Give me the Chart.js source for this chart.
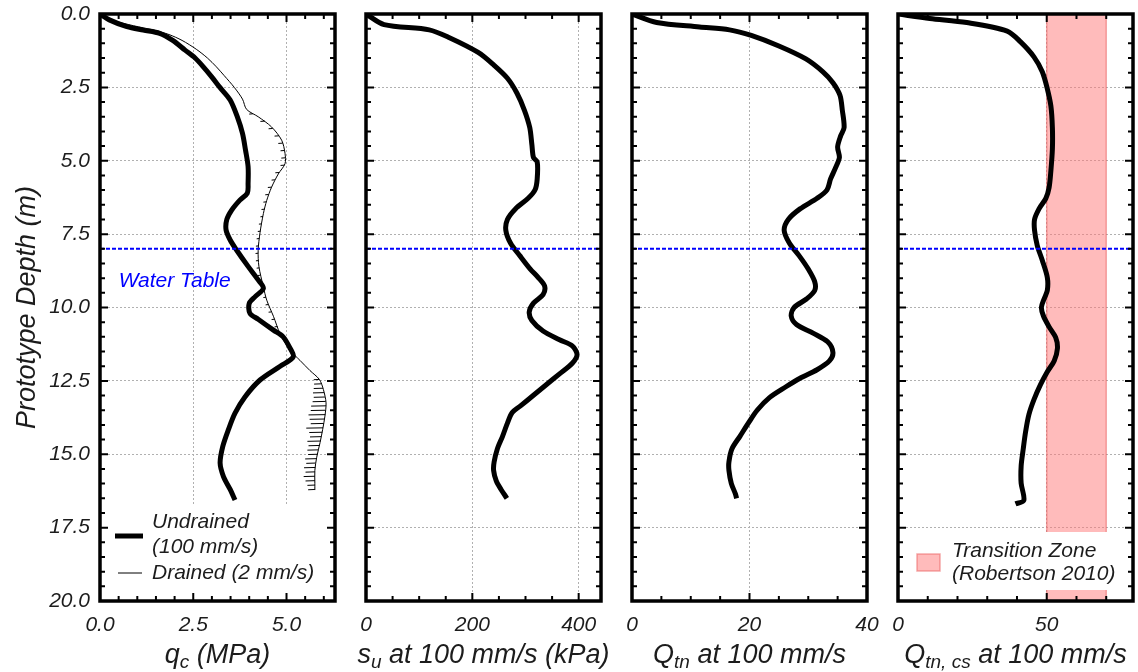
<!DOCTYPE html>
<html>
<head>
<meta charset="utf-8">
<script src="https://cdn.jsdelivr.net/npm/chart.js@4.4.0/dist/chart.umd.min.js"></script>
<style>
  body { margin: 0; background: #fff; }
  #wrap { position: relative; width: 1138px; height: 672px; }
  #wrap canvas { position: absolute; left: 0; top: 0; }
</style>
</head>
<body>
<div id="wrap">
  <canvas id="qc" width="1138" height="672"></canvas>
  <canvas id="su" width="1138" height="672"></canvas>
  <canvas id="qtn" width="1138" height="672"></canvas>
  <canvas id="qtncs" width="1138" height="672"></canvas>
</div>
<script>
// qc profile at 100 mm/s (undrained), depth in m, qc in MPa
const undrainedDepth = [0, 0.2, 0.43, 0.55, 0.66, 0.9, 1.23, 1.5, 1.8, 2.15, 2.51, 2.93, 3.5, 4.07, 4.63, 5.2, 5.77, 6.1, 6.34, 6.68, 7.0, 7.36, 7.7, 8.04, 8.6, 9.06, 9.35, 9.63, 9.86, 10.2, 10.4, 10.77, 11.0, 11.35, 11.68, 12.0, 12.47, 13.04, 13.6, 14.17, 14.74, 15.3, 15.76, 16.2, 16.56];
const undrainedQc = [0, 0.25, 0.72, 1.16, 1.6, 1.95, 2.28, 2.55, 2.77, 3.0, 3.22, 3.49, 3.68, 3.82, 3.9, 3.97, 3.97, 3.95, 3.75, 3.53, 3.4, 3.38, 3.49, 3.66, 3.97, 4.24, 4.38, 4.16, 4.0, 4.02, 4.24, 4.65, 4.91, 5.08, 5.18, 4.83, 4.29, 3.89, 3.62, 3.44, 3.29, 3.22, 3.31, 3.49, 3.62];

// qc profile at 2 mm/s (drained)
const drainedDepth = [0, 0.2, 0.4, 0.55, 0.7, 0.9, 1.2, 1.5, 1.8, 2.1, 2.5, 2.9, 3.25, 3.5, 3.85, 4.3, 4.75, 5.1, 5.45, 5.9, 6.35, 6.8, 7.45, 8.05, 8.6, 9.3, 9.75, 10.3, 10.9, 11.45, 11.8, 12.15, 12.45, 12.8, 13.25, 13.7, 14.15, 14.6, 15.1, 15.55, 16.0, 16.22];
const drainedQc = [0, 0.3, 0.9, 1.45, 1.85, 2.2, 2.58, 2.88, 3.12, 3.33, 3.6, 3.82, 3.93, 4.24, 4.6, 4.87, 4.96, 4.96, 4.78, 4.6, 4.47, 4.38, 4.29, 4.24, 4.26, 4.38, 4.47, 4.65, 4.83, 5.09, 5.36, 5.63, 5.88, 5.99, 6.06, 6.03, 5.97, 5.9, 5.81, 5.76, 5.76, 5.76];

// saw-tooth drops on the drained trace (depth, trace value, lowest value)
const spikeDepth = [3.4, 3.65, 3.9, 4.15, 4.4, 4.65, 4.9, 5.15, 5.4, 5.65, 5.9, 6.15, 6.4, 6.65, 6.9, 7.15, 7.4, 7.65, 7.9, 8.15, 8.4, 8.65, 8.9, 9.15, 9.4, 9.65, 9.9, 10.15, 10.4, 10.65, 10.9,
  12.45, 12.6, 12.75, 12.9, 13.05, 13.2, 13.35, 13.5, 13.65, 13.8, 13.95, 14.1, 14.25, 14.4, 14.55, 14.7, 14.85, 15.0, 15.15, 15.3, 15.45, 15.6, 15.75, 15.9, 16.05, 16.2];
const spikeBase = [4.1, 4.42, 4.63, 4.8, 4.9, 4.95, 4.96, 4.94, 4.8, 4.69, 4.6, 4.52, 4.46, 4.41, 4.37, 4.33, 4.3, 4.27, 4.25, 4.24, 4.25, 4.27, 4.3, 4.35, 4.4, 4.45, 4.51, 4.6, 4.68, 4.76, 4.84,
  5.88, 5.94, 5.98, 6.01, 6.03, 6.05, 6.06, 6.05, 6.04, 6.02, 6.0, 5.98, 5.96, 5.93, 5.91, 5.89, 5.86, 5.83, 5.8, 5.78, 5.77, 5.76, 5.76, 5.76, 5.76, 5.76];
const spikeTip = [4.0, 4.3, 4.52, 4.68, 4.78, 4.84, 4.86, 4.84, 4.7, 4.6, 4.5, 4.43, 4.38, 4.33, 4.3, 4.26, 4.23, 4.2, 4.18, 4.17, 4.18, 4.2, 4.23, 4.28, 4.33, 4.38, 4.44, 4.52, 4.6, 4.68, 4.76,
  5.73, 5.74, 5.73, 5.71, 5.73, 5.7, 5.66, 5.65, 5.59, 5.62, 5.65, 5.53, 5.61, 5.63, 5.56, 5.59, 5.56, 5.58, 5.5, 5.53, 5.47, 5.51, 5.46, 5.51, 5.56, 5.58];

// undrained shear strength, kPa
const suDepth = [0, 0.36, 0.54, 0.8, 1.31, 1.75, 2.19, 2.7, 3.28, 3.87, 4.45, 4.89, 5.04, 5.62, 5.99, 6.28, 6.64, 7.0, 7.37, 7.81, 8.25, 8.69, 8.98, 9.27, 9.56, 9.85, 10.15, 10.44, 10.8, 11.1, 11.31, 11.6, 11.9, 12.26, 12.63, 12.99, 13.36, 13.58, 13.94, 14.38, 14.82, 15.26, 15.55, 15.91, 16.2, 16.5];
const su = [0, 34, 119, 156, 211, 241, 266, 284, 298, 308, 312, 315, 322, 322, 318, 305, 281, 266, 263, 272, 290, 309, 324, 336, 333, 315, 307, 312, 333, 364, 388, 397, 388, 364, 339, 315, 290, 275, 266, 257, 247, 241, 240, 245, 254, 265];

// normalised cone resistance Qtn
const qtnDepth = [0, 0.29, 0.44, 0.54, 0.73, 1.09, 1.53, 1.97, 2.34, 2.77, 3.28, 3.87, 4.16, 4.53, 4.89, 5.26, 5.62, 5.99, 6.28, 6.64, 7.0, 7.37, 7.81, 8.25, 8.69, 9.12, 9.42, 9.71, 10.0, 10.29, 10.58, 10.88, 11.17, 11.53, 11.82, 12.12, 12.41, 12.7, 13.07, 13.5, 13.94, 14.38, 14.82, 15.26, 15.55, 15.99, 16.35, 16.5];
const qtn = [0, 4.2, 11.5, 16.6, 20.3, 25, 29.6, 32.5, 34.2, 35.4, 35.8, 36.1, 35.5, 35, 35.3, 34.6, 33.8, 33.2, 31.5, 28.6, 26.6, 25.9, 26.8, 28.5, 30, 31.1, 31.1, 29.7, 27.6, 27.1, 28, 30.9, 33.3, 34.2, 33.6, 31.5, 28.6, 26.2, 23.4, 21.3, 19.8, 18.4, 17, 16.5, 16.5, 16.9, 17.6, 17.8];

// clean-sand equivalent Qtn,cs
const qtncsDepth = [0, 0.15, 0.29, 0.58, 0.95, 1.46, 1.97, 2.55, 3.14, 3.87, 4.6, 5.33, 5.91, 6.28, 6.64, 7.0, 7.37, 7.88, 8.39, 8.98, 9.42, 9.71, 10.0, 10.29, 10.66, 11.02, 11.39, 11.82, 12.19, 12.63, 13.14, 13.65, 14.23, 14.82, 15.4, 15.99, 16.57, 16.69];
const qtncs = [0, 10.7, 23.1, 36.7, 41.2, 45.7, 48.5, 50.2, 51.4, 51.9, 51.9, 51.4, 50.8, 49.7, 47.4, 45.9, 45.9, 46.8, 48.5, 50.2, 50.2, 49.1, 48.2, 48.9, 50.8, 53, 53.6, 52.5, 50.2, 47.9, 45.7, 44, 42.9, 42.1, 41.4, 41.4, 42.3, 39.5];

const waterTableDepth = 8.0;
const transitionZone = [50, 70];   // Robertson (2010)
const depthTicks = [0, 20, 2.5, 0.5];  // min, max, major, minor

const FAMILY = '"Liberation Sans", Arial, Helvetica, sans-serif';
const TEXT = '#1c1c1c';
const ZONE_FILL = 'rgba(255, 120, 120, 0.5)';
const ZONE_EDGE = 'rgba(235, 100, 100, 0.55)';
const LABEL_SIZE = 21;
const TITLE_SIZE = 27;

function font(size) {
  return 'italic ' + size + 'px ' + FAMILY;
}

function pairs(ys, xs) {
  return ys.map((y, i) => ({ x: xs[i], y: y }));
}

function spikes() {
  const pts = [];
  spikeDepth.forEach((d, i) => {
    pts.push({ x: spikeBase[i], y: d }, { x: spikeTip[i], y: d + 0.01 }, { x: null, y: null });
  });
  return pts;
}

// text with subscripts, parts = [[text, isSub], ...]
function drawRich(ctx, parts, cx, cy, size) {
  const sub = Math.round(size * 0.7);
  let w = 0;
  parts.forEach(([t, s]) => { ctx.font = font(s ? sub : size); w += ctx.measureText(t).width; });
  let x = cx - w / 2;
  ctx.textAlign = 'left';
  ctx.textBaseline = 'middle';
  ctx.fillStyle = TEXT;
  parts.forEach(([t, s]) => {
    ctx.font = font(s ? sub : size);
    ctx.fillText(t, x, s ? cy + size * 0.3 : cy);
    x += ctx.measureText(t).width;
  });
}

function qcOverlay(ctx, a, s) {
  ctx.fillStyle = 'blue';
  ctx.font = font(LABEL_SIZE);
  ctx.textAlign = 'left';
  ctx.textBaseline = 'middle';
  ctx.fillText('Water Table', s.x.getPixelForValue(0.5), s.y.getPixelForValue(9.1));

  ctx.fillStyle = '#fff';
  ctx.fillRect(a.left + 2, a.bottom - 96, 228, 94);
  ctx.strokeStyle = '#000';
  ctx.lineWidth = 5;
  ctx.beginPath();
  ctx.moveTo(a.left + 15, a.bottom - 65);
  ctx.lineTo(a.left + 43, a.bottom - 65);
  ctx.stroke();
  ctx.lineWidth = 1;
  ctx.beginPath();
  ctx.moveTo(a.left + 18, a.bottom - 28);
  ctx.lineTo(a.left + 42, a.bottom - 28);
  ctx.stroke();
  ctx.fillStyle = TEXT;
  ctx.fillText('Undrained', a.left + 52, a.bottom - 79);
  ctx.fillText('(100 mm/s)', a.left + 52, a.bottom - 54);
  ctx.fillText('Drained (2 mm/s)', a.left + 52, a.bottom - 28);
}

function zoneOverlay(ctx, a) {
  ctx.fillStyle = '#fff';
  ctx.fillRect(a.left + 4, a.bottom - 69, a.right - a.left - 7, 58);
  ctx.fillStyle = ZONE_FILL;
  ctx.fillRect(a.left + 19, a.bottom - 47, 23, 17);
  ctx.strokeStyle = ZONE_EDGE;
  ctx.lineWidth = 1.5;
  ctx.strokeRect(a.left + 19, a.bottom - 47, 23, 17);
  ctx.fillStyle = TEXT;
  ctx.font = font(LABEL_SIZE);
  ctx.textAlign = 'left';
  ctx.textBaseline = 'middle';
  ctx.fillText('Transition Zone', a.left + 54, a.bottom - 50);
  ctx.fillText('(Robertson 2010)', a.left + 54, a.bottom - 27);
}

function makePanel(p) {
  const [dMin, dMax, dMajor, dMinor] = depthTicks;
  const decor = {
    id: 'decor',
    afterDatasetsDraw(chart) {
      if (p.overlay) {
        chart.ctx.save();
        p.overlay(chart.ctx, chart.chartArea, chart.scales);
        chart.ctx.restore();
      }
    },
    afterDraw(chart) {
      const ctx = chart.ctx, a = chart.chartArea;
      const xs = chart.scales.x, ys = chart.scales.y;
      ctx.save();
      ctx.strokeStyle = '#000';
      ctx.lineWidth = 2;
      ctx.beginPath();
      const xEvery = Math.round(p.xMajor / p.xMinor);
      for (let i = 0; i * p.xMinor <= p.xMax + 1e-9; i++) {
        const x = xs.getPixelForValue(i * p.xMinor);
        const len = i % xEvery === 0 ? 8 : 5;
        ctx.moveTo(x, a.bottom); ctx.lineTo(x, a.bottom - len);
        ctx.moveTo(x, a.top); ctx.lineTo(x, a.top + len);
      }
      const yEvery = Math.round(dMajor / dMinor);
      for (let i = 0; i * dMinor <= dMax + 1e-9; i++) {
        const y = ys.getPixelForValue(dMin + i * dMinor);
        const len = i % yEvery === 0 ? 8 : 5;
        ctx.moveTo(a.left, y); ctx.lineTo(a.left + len, y);
        ctx.moveTo(a.right, y); ctx.lineTo(a.right - len, y);
      }
      ctx.stroke();
      ctx.lineWidth = 3.5;
      ctx.strokeRect(a.left, a.top, a.right - a.left, a.bottom - a.top);
      drawRich(ctx, p.title, (a.left + a.right) / 2, 655, TITLE_SIZE);
      ctx.restore();
    }
  };

  const datasets = [
    {
      data: [{ x: p.xMin, y: waterTableDepth }, { x: p.xMax, y: waterTableDepth }],
      borderColor: '#0000ff', borderWidth: 2, borderDash: [4, 2]
    }
  ].concat(p.datasets);

  return new Chart(document.getElementById(p.id), {
    type: 'scatter',
    data: { datasets: datasets },
    options: {
      responsive: false,
      animation: false,
      showLine: true,
      elements: { point: { radius: 0 }, line: { borderColor: '#000', tension: 0 } },
      layout: { padding: { left: p.left - p.yWidth, right: 1138 - p.left - 235, top: 14, bottom: 0 } },
      plugins: { legend: { display: false }, tooltip: { enabled: false } },
      scales: {
        x: {
          type: 'linear', min: p.xMin, max: p.xMax,
          afterFit(s) { s.height = 71; s.paddingLeft = 0; s.paddingRight = 0; },
          border: { display: false, dash: [2, 2] },
          grid: { color: '#b0b0b0', lineWidth: 1, drawTicks: false },
          ticks: {
            stepSize: p.xMajor, includeBounds: false, padding: 12, maxRotation: 0, autoSkip: false,
            color: TEXT, font: { family: FAMILY, style: 'italic', size: LABEL_SIZE },
            callback: v => p.fmt(v)
          }
        },
        y: {
          type: 'linear', reverse: true, min: dMin, max: dMax,
          afterFit(s) { s.width = p.yWidth; s.paddingTop = 0; s.paddingBottom = 0; },
          border: { display: false, dash: [2, 2] },
          grid: { color: '#b0b0b0', lineWidth: 1, drawTicks: false },
          ticks: {
            display: p.first, stepSize: dMajor, includeBounds: false, padding: 10,
            color: TEXT, font: { family: FAMILY, style: 'italic', size: LABEL_SIZE },
            callback: v => v.toFixed(1)
          },
          title: {
            display: p.first, text: 'Prototype Depth (m)', color: TEXT,
            font: { family: FAMILY, style: 'italic', size: TITLE_SIZE }, padding: { top: 11, bottom: 0 }
          }
        }
      }
    },
    plugins: [decor]
  });
}

makePanel({
  id: 'qc', left: 100, yWidth: 100, first: true,
  xMin: 0, xMax: 6.3, xMajor: 2.5, xMinor: 0.5, fmt: v => v.toFixed(1),
  title: [['q', 0], ['c', 1], [' (MPa)', 0]],
  overlay: qcOverlay,
  datasets: [
    { data: pairs(undrainedDepth, undrainedQc), borderWidth: 5, tension: 0.3 },
    { data: pairs(drainedDepth, drainedQc), borderWidth: 1, tension: 0.3 },
    { data: spikes(), borderWidth: 1, spanGaps: false }
  ]
});

makePanel({
  id: 'su', left: 366, yWidth: 20, first: false,
  xMin: 0, xMax: 442, xMajor: 200, xMinor: 50, fmt: v => String(v),
  title: [['s', 0], ['u', 1], [' at 100 mm/s (kPa)', 0]],
  datasets: [
    { data: pairs(suDepth, su), borderWidth: 5, tension: 0.3 }
  ]
});

makePanel({
  id: 'qtn', left: 632, yWidth: 20, first: false,
  xMin: 0, xMax: 40, xMajor: 20, xMinor: 5, fmt: v => String(v),
  title: [['Q', 0], ['tn', 1], [' at 100 mm/s', 0]],
  datasets: [
    { data: pairs(qtnDepth, qtn), borderWidth: 5, tension: 0.3 }
  ]
});

makePanel({
  id: 'qtncs', left: 898, yWidth: 20, first: false,
  xMin: 0, xMax: 79, xMajor: 50, xMinor: 10, fmt: v => String(v),
  title: [['Q', 0], ['tn, cs', 1], [' at 100 mm/s', 0]],
  overlay: zoneOverlay,
  datasets: [
    { data: pairs(qtncsDepth, qtncs), borderWidth: 5, tension: 0.3 },
    {
      data: [
        { x: transitionZone[0], y: 0 }, { x: transitionZone[1], y: 0 },
        { x: transitionZone[1], y: 20 }, { x: transitionZone[0], y: 20 },
        { x: transitionZone[0], y: 0 }
      ],
      fill: 'shape', backgroundColor: ZONE_FILL, borderColor: ZONE_EDGE, borderWidth: 1.5
    }
  ]
});
</script>
</body>
</html>
